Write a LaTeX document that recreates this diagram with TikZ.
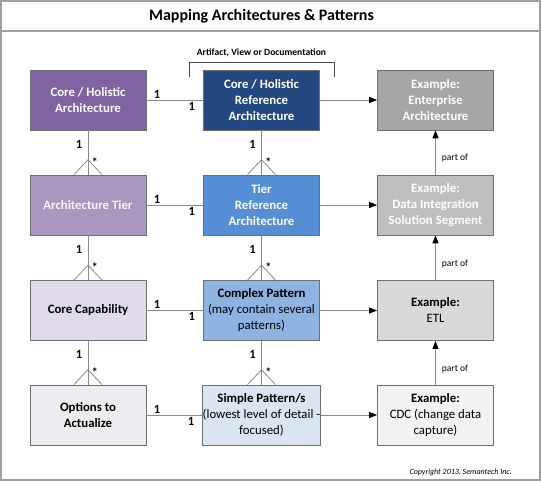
\documentclass[tikz,border=0pt]{standalone}
\usepackage{fontspec}
\setmainfont{Carlito}
\usepackage{tikz}
\usetikzlibrary{arrows.meta}
\usepackage{xcolor}

\definecolor{framegray}{HTML}{A0A0A0}
\definecolor{boxline}{HTML}{6F6F6F}
\definecolor{linkgray}{HTML}{8A8A8A}
\definecolor{corepurple}{HTML}{8064A2}
\definecolor{coreblue}{HTML}{23487F}
\definecolor{exgray}{HTML}{A6A6A6}
\definecolor{tierpurple}{HTML}{A898BF}
\definecolor{tierblue}{HTML}{558ED5}
\definecolor{exlight}{HTML}{BFBFBF}
\definecolor{cappurple}{HTML}{E0DAE9}
\definecolor{complexblue}{HTML}{8DB3E2}
\definecolor{etlgray}{HTML}{D9D9D9}
\definecolor{optpurple}{HTML}{EEEBF3}
\definecolor{simpleblue}{HTML}{DBE5F1}
\definecolor{cdcgray}{HTML}{F2F2F2}

\begin{document}
\begin{tikzpicture}[x=1pt,y=-1pt]
	 \tikzstyle{box}=[draw=boxline,line width=0.7pt,minimum width=116pt,minimum height=60pt,inner sep=0pt,align=center,font=\fontsize{12.8}{16}\selectfont]
	 \tikzstyle{dark box}=[box,text=white,font=\bfseries\fontsize{12.8}{16}\selectfont]
	 \tikzstyle{link}=[draw,linkgray,line width=0.8pt]
	 \tikzstyle{arrow}=[link,-{Triangle[length=8pt,width=6pt,black]}]
	 \tikzstyle{one}=[font=\bfseries\fontsize{12.5}{12}\selectfont,inner sep=1.5pt,text=black]
	 \tikzstyle{many}=[font=\bfseries\fontsize{12}{12}\selectfont,inner sep=1.5pt,text=black]
	 \tikzstyle{partof}=[font=\fontsize{9.5}{10}\selectfont,text=black,inner sep=0pt,right=6pt]

	 \useasboundingbox (0,0) rectangle (541,481);
	 \draw[framegray,line width=1.6pt] (1,1) rectangle (540,480);
	 \draw[framegray,line width=1.2pt] (1,31) -- (540,31);
	 \node (title) at (261.5,16) {\bfseries\fontsize{16}{16}\selectfont Mapping Architectures \& Patterns};

	 % artifact bracket
	 \node (artifact) at (261.5,53) {\bfseries\fontsize{9.6}{10}\selectfont Artifact, View or Documentation};
	 \draw[black!70,line width=0.7pt] (189,77) -- (189,62) -- (334,62) -- (334,77);

	 \node[dark box,fill=corepurple] (a1) at (88,100) {Core / Holistic\\Architecture};
	 \node[dark box,fill=coreblue] (b1) at (261.5,100) {Core / Holistic\\Reference\\Architecture};
	 \node[dark box,fill=exgray] (c1) at (435.5,100) {Example:\\Enterprise\\Architecture};

	 \node[dark box,fill=tierpurple,text=white!92!tierpurple] (a2) at (88,205) {Architecture Tier};
	 \node[dark box,fill=tierblue] (b2) at (261.5,205) {Tier\\Reference\\Architecture};
	 \node[dark box,fill=exlight] (c2) at (435.5,205) {Example:\\Data Integration\\Solution Segment};

	 \node[box,fill=cappurple] (a3) at (88,310.5) {\textbf{Core Capability}};
	 \node[box,fill=complexblue] (b3) at (261.5,310.5) {\textbf{Complex Pattern}\\(may contain several\\patterns)};
	 \node[box,fill=etlgray] (c3) at (435.5,310.5) {\textbf{Example:}\\ETL};

	 \node[box,fill=optpurple] (a4) at (88,415) {\textbf{Options to}\\\textbf{Actualize}};
	 \node[box,fill=simpleblue] (b4) at (261.5,415) {\textbf{Simple Pattern/s}\\(lowest level of detail -\\focused)};
	 \node[box,fill=cdcgray] (c4) at (435.5,415) {\textbf{Example:}\\CDC (change data\\capture)};

	 \node[anchor=east,inner sep=0pt] (copyright) at (512,472) {\itshape\fontsize{8}{8}\selectfont Copyright 2013, Semantech Inc.};

	 % one to one
	 \draw[link] (a1) -- (b1) node[one,pos=0.19,above]{1} node[one,pos=0.8,below]{1};
	 \draw[link] (a2) -- (b2) node[one,pos=0.19,above]{1} node[one,pos=0.8,below]{1};
	 \draw[link] (a3) -- (b3) node[one,pos=0.19,above]{1} node[one,pos=0.8,below]{1};
	 \draw[link] (a4) -- (b4) node[one,pos=0.19,above]{1} node[one,pos=0.8,below]{1};

	 % examples
	 \draw[arrow] (b1) -- (c1);
	 \draw[arrow] (b2) -- (c2);
	 \draw[arrow] (b3) -- (c3);
	 \draw[arrow] (b4) -- (c4);

	 % one to many
	 \draw[link] (a1) -- (a2) node[one,pos=0.31,left=4pt]{1} node[many,pos=0.72,right=2pt]{*};
	 \draw[link] (a2) -- (a3) node[one,pos=0.31,left=4pt]{1} node[many,pos=0.72,right=2pt]{*};
	 \draw[link] (a3) -- (a4) node[one,pos=0.31,left=4pt]{1} node[many,pos=0.72,right=2pt]{*};
	 \draw[link] (b1) -- (b2) node[one,pos=0.31,left=4pt]{1} node[many,pos=0.72,right=2pt]{*};
	 \draw[link] (b2) -- (b3) node[one,pos=0.31,left=4pt]{1} node[many,pos=0.72,right=2pt]{*};
	 \draw[link] (b3) -- (b4) node[one,pos=0.31,left=4pt]{1} node[many,pos=0.72,right=2pt]{*};
	 \draw[link] ([xshift=-14pt]a2.north) -- ([yshift=15pt]a2.north) -- ([xshift=14pt]a2.north);
	 \draw[link] ([xshift=-14pt]a3.north) -- ([yshift=15pt]a3.north) -- ([xshift=14pt]a3.north);
	 \draw[link] ([xshift=-14pt]a4.north) -- ([yshift=15pt]a4.north) -- ([xshift=14pt]a4.north);
	 \draw[link] ([xshift=-14pt]b2.north) -- ([yshift=15pt]b2.north) -- ([xshift=14pt]b2.north);
	 \draw[link] ([xshift=-14pt]b3.north) -- ([yshift=15pt]b3.north) -- ([xshift=14pt]b3.north);
	 \draw[link] ([xshift=-14pt]b4.north) -- ([yshift=15pt]b4.north) -- ([xshift=14pt]b4.north);

	 % part of
	 \draw[arrow] (c2) -- (c1) node[partof,pos=0.38]{part of};
	 \draw[arrow] (c3) -- (c2) node[partof,pos=0.35]{part of};
	 \draw[arrow] (c4) -- (c3) node[partof,pos=0.35]{part of};
\end{tikzpicture}
\end{document}
